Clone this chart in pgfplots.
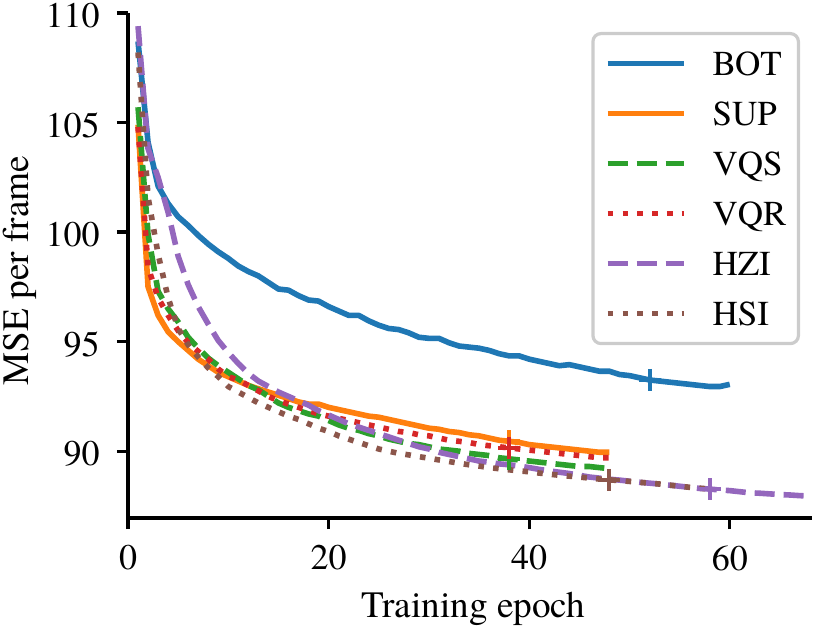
\documentclass[border=0pt]{standalone}
\usepackage{fontspec}
\setmainfont{texgyretermes}[Extension=.otf, UprightFont=*-regular, BoldFont=*-bold, ItalicFont=*-italic, BoldItalicFont=*-bolditalic]
\usepackage{pgfplots}
\pgfplotsset{compat=1.18}
\definecolor{c0}{HTML}{1F77B4}
\definecolor{c1}{HTML}{FF7F0E}
\definecolor{c2}{HTML}{2CA02C}
\definecolor{c3}{HTML}{D62728}
\definecolor{c4}{HTML}{9467BD}
\definecolor{c5}{HTML}{8C564B}
\newcommand\fs{\fontsize{17.5bp}{21bp}\selectfont}
\newcommand\ft{\fontsize{18bp}{21bp}\selectfont}
\newcommand\fl{\fontsize{18.6bp}{22bp}\selectfont}
\begin{document}
\begin{tikzpicture}
\useasboundingbox (0,0) rectangle (415bp,313bp);
\begin{axis}[
  at={(64bp,54bp)}, anchor=south west,
  scale only axis, width=342bp, height=252.5bp,
  xmin=0, xmax=68.2, ymin=86.95, ymax=110,
  axis lines*=left,
  axis line style={line width=1.6bp, black},
  tick align=outside, major tick length=5.5bp,
  tick style={line width=1.6bp, black},
  xtick={0,20,40,60}, xticklabels={0,20,40,60},
  ytick={90,95,100,105,110}, yticklabels={90,95,100,105,110},
  ticklabel style={font=\ft},
  xticklabel style={inner sep=0pt, anchor=north},
  yticklabel style={inner sep=0pt, anchor=east, yshift=-1.2bp},
  xticklabel shift=8bp, yticklabel shift=8.5bp,
  xlabel={Training epoch}, ylabel={MSE per frame},
  label style={font=\fl},
  xlabel style={at={(axis description cs:0.505,-0.1964)}, anchor=base, inner sep=0pt},
  ylabel style={at={(axis description cs:-0.145,0.49)}, anchor=base, inner sep=0pt},
  every axis plot/.append style={line width=2.8bp, line join=round},
  legend style={at={(axis description cs:0.9825,0.9624)}, anchor=north east,
    draw=black!20, line width=1.6bp, rounded corners=4bp, fill=white, font=\fs,
    inner xsep=6bp, inner ysep=2.5bp, row sep=0pt, column sep=13bp,
    nodes={inner sep=0pt, text height=18.3bp, text depth=6.7bp, anchor=base west}},
  legend image code/.code={\draw[#1] (0bp,5.8bp) -- (38bp,5.8bp);},
]
\addplot[c0, solid] coordinates {
(1,108.7)(2,104.1)(3,102.1)(4,101.3)(5,100.7)(6,100.3)(7,99.85)(8,99.45)(9,99.1)(10,98.8)
(11,98.45)(12,98.2)(13,98.0)(14,97.7)(15,97.4)(16,97.35)(17,97.1)(18,96.9)(19,96.85)(20,96.6)
(21,96.4)(22,96.2)(23,96.2)(24,95.95)(25,95.75)(26,95.6)(27,95.55)(28,95.4)(29,95.2)(30,95.15)
(31,95.15)(32,94.95)(33,94.8)(34,94.75)(35,94.7)(36,94.6)(37,94.45)(38,94.35)(39,94.35)(40,94.2)
(41,94.1)(42,94.0)(43,93.9)(44,93.95)(45,93.85)(46,93.75)(47,93.65)(48,93.65)(49,93.5)(50,93.45)
(51,93.35)(52,93.25)(53,93.2)(54,93.15)(55,93.1)(56,93.05)(57,93.0)(58,92.95)(59,92.95)(60,93.05)
};
\addlegendentry{BOT}
\addplot[c1, solid] coordinates {
(1,104.9)(2,97.5)(3,96.2)(4,95.45)(5,95.0)(6,94.6)(7,94.2)(8,93.9)(9,93.6)(10,93.4)
(11,93.2)(12,93.0)(13,92.85)(14,92.7)(15,92.55)(16,92.4)(17,92.25)(18,92.15)(19,92.15)(20,92.0)
(21,91.9)(22,91.8)(23,91.7)(24,91.6)(25,91.55)(26,91.45)(27,91.35)(28,91.25)(29,91.15)(30,91.05)
(31,91.0)(32,90.9)(33,90.85)(34,90.75)(35,90.7)(36,90.6)(37,90.5)(38,90.45)(39,90.4)(40,90.3)
(41,90.25)(42,90.2)(43,90.15)(44,90.1)(45,90.05)(46,90.0)(47,89.95)(48,89.95)
};
\addlegendentry{SUP}
\addplot[c2, dash pattern=on 10bp off 4.5bp] coordinates {
(1,105.7)(2,99.9)(3,97.3)(4,96.5)(5,95.9)(6,95.2)(7,94.7)(8,94.25)(9,93.9)(10,93.6)
(11,93.3)(12,93.0)(13,92.8)(14,92.5)(15,92.2)(16,92.0)(17,91.85)(18,91.7)(19,91.6)(20,91.4)
(21,91.2)(22,91.05)(23,90.95)(24,90.8)(25,90.7)(26,90.55)(27,90.45)(28,90.35)(29,90.3)(30,90.2)
(31,90.1)(32,90.05)(33,90.0)(34,89.9)(35,89.85)(36,89.8)(37,89.7)(38,89.65)(39,89.6)(40,89.55)
(41,89.5)(42,89.45)(43,89.4)(44,89.35)(45,89.3)(46,89.3)(47,89.25)(48,89.2)
};
\addlegendentry{VQS}
\addplot[c3, dash pattern=on 2.8bp off 4.6bp] coordinates {
(1,104.8)(2,98.4)(3,97.0)(4,96.2)(5,95.5)(6,94.95)(7,94.55)(8,94.2)(9,93.75)(10,93.4)
(11,93.25)(12,93.0)(13,92.75)(14,92.5)(15,92.3)(16,92.15)(17,92.0)(18,91.85)(19,91.7)(20,91.6)
(21,91.5)(22,91.4)(23,91.3)(24,91.2)(25,91.1)(26,91.0)(27,90.9)(28,90.85)(29,90.75)(30,90.7)
(31,90.6)(32,90.5)(33,90.45)(34,90.4)(35,90.3)(36,90.25)(37,90.2)(38,90.15)(39,90.1)(40,90.05)
(41,90.0)(42,89.95)(43,89.9)(44,89.85)(45,89.8)(46,89.75)(47,89.7)(48,89.7)
};
\addlegendentry{VQR}
\addplot[c4, dash pattern=on 10bp off 4.5bp] coordinates {
(1,109.4)(2,103.8)(3,102.5)(4,100.9)(5,98.9)(6,97.6)(7,96.6)(8,95.8)(9,95.05)(10,94.5)
(11,94.0)(12,93.55)(13,93.2)(14,92.95)(15,92.7)(16,92.5)(17,92.3)(18,92.1)(19,91.85)(20,91.65)
(21,91.45)(22,91.25)(23,91.1)(24,90.95)(25,90.8)(26,90.65)(27,90.5)(28,90.35)(29,90.2)(30,90.1)
(31,89.95)(32,89.85)(33,89.75)(34,89.65)(35,89.55)(36,89.5)(37,89.42)(38,89.38)(39,89.32)(40,89.25)
(41,89.17)(42,89.1)(43,89.04)(44,88.98)(45,88.9)(46,88.82)(47,88.77)(48,88.72)(49,88.68)(50,88.63)
(51,88.58)(52,88.54)(53,88.5)(54,88.45)(55,88.4)(56,88.35)(57,88.3)(58,88.27)(59,88.23)(60,88.2)
(61,88.15)(62,88.1)(63,88.08)(64,88.05)(65,88.02)(66,88.0)(67,87.97)(68,87.95)(69,87.93)
};
\addlegendentry{HZI}
\addplot[c5, dash pattern=on 2.8bp off 4.6bp] coordinates {
(1,108.2)(2,101.6)(3,99.0)(4,97.0)(5,95.6)(6,94.85)(7,94.3)(8,93.8)(9,93.4)(10,92.95)
(11,92.7)(12,92.45)(13,92.2)(14,92.0)(15,91.8)(16,91.6)(17,91.45)(18,91.25)(19,91.05)(20,90.9)
(21,90.7)(22,90.55)(23,90.4)(24,90.25)(25,90.1)(26,90.0)(27,89.9)(28,89.83)(29,89.75)(30,89.68)
(31,89.6)(32,89.53)(33,89.45)(34,89.38)(35,89.32)(36,89.25)(37,89.2)(38,89.15)(39,89.1)(40,89.06)
(41,89.0)(42,88.95)(43,88.9)(44,88.86)(45,88.82)(46,88.77)(47,88.73)(48,88.69)(49,88.66)(50,88.62)
(51,88.58)(52,88.54)(53,88.5)(54,88.45)(55,88.4)(56,88.35)(57,88.31)(58,88.27)
};
\addlegendentry{HSI}
\addplot[forget plot, only marks, mark=+, mark size=5.5bp, c0, mark options={solid, line width=2bp}] coordinates {(52,93.25)};
\addplot[forget plot, only marks, mark=+, mark size=5.5bp, c1, mark options={solid, line width=2bp}] coordinates {(38,90.45)};
\addplot[forget plot, only marks, mark=+, mark size=5.5bp, c2, mark options={solid, line width=2bp}] coordinates {(38,89.65)};
\addplot[forget plot, only marks, mark=+, mark size=5.5bp, c3, mark options={solid, line width=2bp}] coordinates {(38,90.15)};
\addplot[forget plot, only marks, mark=+, mark size=5.5bp, c4, mark options={solid, line width=2bp}] coordinates {(58,88.27)};
\addplot[forget plot, only marks, mark=+, mark size=5.5bp, c5, mark options={solid, line width=2bp}] coordinates {(48,88.69)};
\end{axis}
\end{tikzpicture}
\end{document}
